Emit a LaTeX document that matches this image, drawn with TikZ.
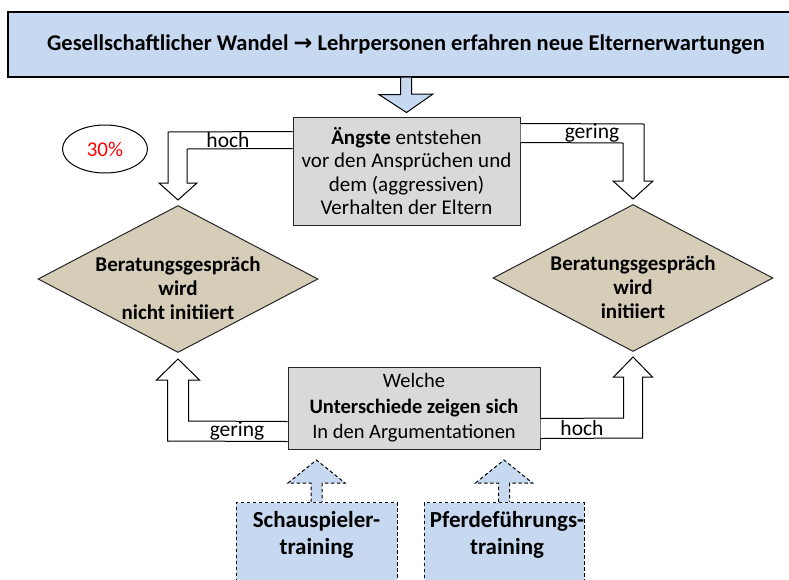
\documentclass[tikz,border=0pt]{standalone}
\usepackage{fontspec}
\setmainfont{Carlito}
\newfontfamily\arrowfont{DejaVu Sans}
\usetikzlibrary{shapes.geometric, calc}
\definecolor{paleblue}{HTML}{C6D9F1}
\definecolor{boxgray}{HTML}{D9D9D9}
\definecolor{linen}{HTML}{D6CDB9}
\definecolor{warn}{HTML}{FF0000}

\begin{document}
\begin{tikzpicture}[
  x=1pt, y=-1pt,
  banner/.style={rectangle, draw=black, line width=1.2pt, fill=paleblue,
                 minimum width=796, minimum height=65,
                 font=\fontsize{22.5}{27}\selectfont\bfseries},
  graybox/.style={rectangle, draw=black!85, line width=1pt, fill=boxgray,
                  align=center, inner sep=2pt},
  decision/.style={diamond, draw=black!85, line width=1pt, fill=linen,
                   inner sep=0pt, minimum width=280, minimum height=147},
  dtext/.style={align=center, inner sep=0pt,
                font=\fontsize{21}{24}\selectfont\bfseries},
  trainbox/.style={rectangle, draw=black, line width=1pt, fill=paleblue,
                   dash pattern=on 3.5pt off 2.5pt, minimum height=100,
                   anchor=north},
  traintext/.style={align=center, inner sep=0pt,
                    font=\fontsize{23}{27}\selectfont\bfseries},
  lbl/.style={inner sep=0pt, font=\fontsize{21.5}{24}\selectfont},
  bendarr/.style={draw=black, line width=1pt, fill=white, line join=miter},
  downarr/.style={draw=black, line width=1pt, fill=paleblue, line join=miter},
  dasharr/.style={downarr, dash pattern=on 3.5pt off 2.5pt},
]
\useasboundingbox (0,0) rectangle (789,579);

\node[banner] (wandel) at (406,44.5)
  {Gesellschaftlicher Wandel {\arrowfont\bfseries →} Lehrpersonen erfahren neue Elternerwartungen};

\node[graybox, minimum width=227, minimum height=108,
      font=\fontsize{21}{23.5}\selectfont] (angst) at (406.5,171)
  {\textbf{Ängste} entstehen\\vor den Ansprüchen und\\dem (aggressiven)\\Verhalten der Eltern};
\node[graybox, minimum width=252, minimum height=82,
      font=\fontsize{20.5}{25.5}\selectfont] (argu) at (414,408)
  {Welche\\\textbf{Unterschiede zeigen sich}\\In den Argumentationen};

\node[decision] (nicht) at (178,279) {};
\node[decision] (ja) at (633,278) {};
\node[dtext] (nichttxt) at (178,288) {Beratungsgespräch\\wird\\nicht initiiert};
\node[dtext] (jatxt) at (633,287) {Beratungsgespräch\\wird\\initiiert};

\node[ellipse, draw=black, line width=1pt, fill=white, minimum width=85,
      minimum height=48, text=warn, font=\fontsize{21}{24}\selectfont] (quota)
      at (105,149) {30\%};

\node[trainbox, minimum width=161] (schau) at (316.5,502) {};
\node[trainbox, minimum width=160] (pferd) at (504,502) {};
\node[traintext] (schautxt) at (316.5,535) {Schauspieler-\\training};
\node[traintext] (pferdtxt) at (507,535) {Pferdeführungs-\\training};

% block arrows
\filldraw[downarr] ([xshift=-5.5pt]wandel.south) -- ++(0,17) -- ++(-21.5,0)
  -- ([yshift=4pt]angst.north) -- (433,94) -- (411.5,94)
  -- ([xshift=5.5pt]wandel.south);

\filldraw[bendarr] ([yshift=-15pt]angst.north west) -- (168,132) -- (168,183)
  -- (159,183) -- ([yshift=5pt]nicht.north) -- (197,183) -- (187,183)
  -- (187,149) -- ([yshift=-32pt]angst.north west);
\filldraw[bendarr] ([yshift=-7pt]angst.north east) -- (644,124) -- (644,181)
  -- (653,181) -- ([yshift=5pt]ja.north) -- (613,181) -- (623,181)
  -- (623,143) -- ([yshift=-26pt]angst.north east);
\filldraw[bendarr] ([yshift=28pt]argu.south west) -- (188.5,421) -- (188.5,380)
  -- (199.5,380) -- ([yshift=-6pt]nicht.south) -- (156.5,380) -- (167.5,380)
  -- (167.5,441) -- ([yshift=8pt]argu.south west);
\filldraw[bendarr] ([yshift=31pt]argu.south east) -- (623.5,418) -- (623.5,377)
  -- (613.5,377) -- ([yshift=-5pt]ja.south) -- (652.5,377) -- (642.5,377)
  -- (642.5,438) -- ([yshift=11pt]argu.south east);

\filldraw[dasharr] ([xshift=-5.5pt]schau.north) -- ++(0,-19) -- ++(-23,0)
  -- ++(28.5,-23) -- ++(28.5,23) -- ++(-23,0) -- ([xshift=5.5pt]schau.north);
\filldraw[dasharr] ([xshift=-5.5pt]pferd.north) -- ++(0,-19) -- ++(-23,0)
  -- ++(28.5,-23) -- ++(28.5,23) -- ++(-23,0) -- ([xshift=5.5pt]pferd.north);

\node[lbl] (hochoben) at (228,140) {hoch};
\node[lbl] (geringoben) at (592,133) {gering};
\node[lbl] (geringunten) at (237,431) {gering};
\node[lbl] (hochunten) at (582,428) {hoch};
\end{tikzpicture}
\end{document}
